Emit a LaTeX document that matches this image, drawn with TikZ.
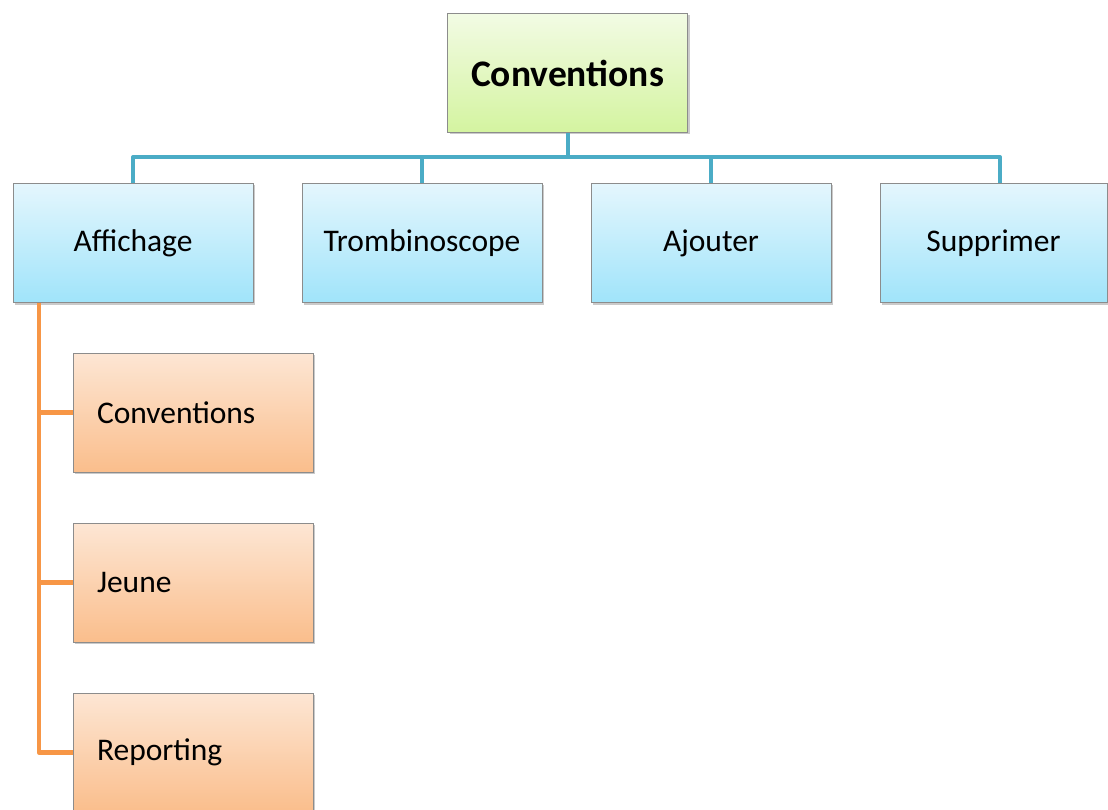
\documentclass[tikz,border=0pt]{standalone}
\usepackage{fontspec}
\setmainfont{Carlito}
\usetikzlibrary{shadows}
\definecolor{bline}{RGB}{75,172,198}
\definecolor{oline}{RGB}{247,150,70}
\definecolor{gtop}{RGB}{242,251,228}
\definecolor{gbot}{RGB}{212,244,160}
\definecolor{btop}{RGB}{228,246,253}
\definecolor{bbot}{RGB}{160,228,250}
\definecolor{otop}{RGB}{253,230,212}
\definecolor{obot}{RGB}{250,190,140}
\definecolor{bord}{RGB}{140,140,140}
\tikzset{
  boxbase/.style={draw=bord, line width=1pt, rectangle, minimum height=119pt, inner sep=0pt,
     drop shadow={shadow xshift=2pt, shadow yshift=-2pt, opacity=0.35, fill=black!60}},
  topbox/.style={boxbase, top color=gtop, bottom color=gbot, minimum width=240pt, font=\fontsize{37.5}{44}\selectfont\bfseries},
  lvtwo/.style={boxbase, top color=btop, bottom color=bbot, minimum width=240pt, font=\fontsize{31.5}{38}\selectfont},
  lvthree/.style={boxbase, top color=otop, bottom color=obot, text width=192pt, inner xsep=24pt, align=left, font=\fontsize{31.5}{38}\selectfont},
  bconn/.style={draw=bline, line width=4pt, line join=round},
  oconn/.style={draw=oline, line width=4.5pt, line join=round}
}
\begin{document}
\begin{tikzpicture}[x=1pt,y=-1pt]
\useasboundingbox (0,0) rectangle (1108,810);
\node[topbox] (top) at (567.5,73) {Conventions};
\node[lvtwo] (a) at (133,243) {Affichage};
\node[lvtwo] (b) at (422,243) {Trombinoscope};
\node[lvtwo] (c) at (711,243) {Ajouter};
\node[lvtwo, minimum width=227pt] (d) at (993.5,243) {Supprimer};
\coordinate (bus) at (567.5,157);
\coordinate (dn) at (1000,183);
\coordinate (sp) at (39,303);
\draw[bconn] (top.south) -- (top.south |- bus);
\draw[bconn] (a.north) -- (a.north |- bus) -- (dn |- bus) -- (dn);
\draw[bconn] (b.north) -- (b.north |- bus);
\draw[bconn] (c.north) -- (c.north |- bus);
\node[lvthree] (e) at (193,412.5) {Conventions};
\node[lvthree] (f) at (193,582.5) {Jeune};
\node[lvthree] (g) at (193,752.5) {Reporting};
\draw[oconn] (sp) |- (g.west);
\draw[oconn] (sp |- e.west) -- (e.west);
\draw[oconn] (sp |- f.west) -- (f.west);
\end{tikzpicture}
\end{document}
